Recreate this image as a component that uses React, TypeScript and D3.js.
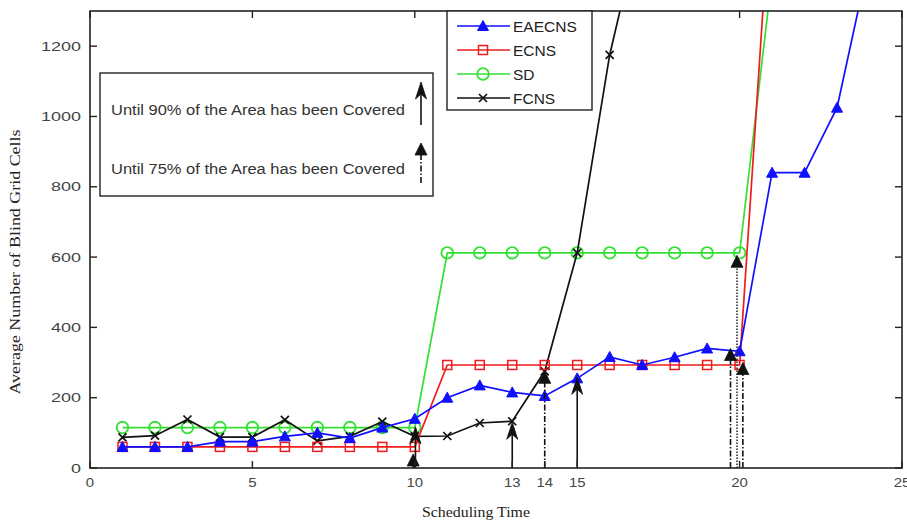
import React from "react";
import * as d3 from "d3";

const W = 907;
const H = 522;

const eaecnsT = [1,2,3,4,5,6,7,8,9,10,11,12,13,14,15,16,17,18,19,20,21,22,23,24];
const eaecnsV = [60,60,60,75,75,90,100,85,115,140,200,235,215,205,255,316,293,315,340,332,840,840,1025,1450];

const ecnsT = [1,2,3,4,5,6,7,8,9,10,11,12,13,14,15,16,17,18,19,20,21];
const ecnsV = [60,60,60,60,60,60,60,60,60,60,293,293,293,293,293,293,293,293,293,293,1700];

const sdT = [1,2,3,4,5,6,7,8,9,10,11,12,13,14,15,16,17,18,19,20,21];
const sdV = [115,115,115,115,115,115,115,115,115,115,612,612,612,612,612,612,612,612,612,612,1400];

const fcnsT = [1,2,3,4,5,6,7,8,9,10,11,12,13,14,15,16,17];
const fcnsV = [87,92,138,88,88,137,77,90,132,90,91,128,133,275,612,1175,1570];

const xTicks = [0,5,10,13,14,15,20,25];
const yTicks = [0,200,400,600,800,1000,1200];

// coverage arrows: time, value reached, kind ("90" solid, "75" dash-dot, "dot" dotted)
const arrowT = [9.95, 10.02, 13, 14, 15, 19.72, 19.92, 20.1];
const arrowV = [40, 117, 130, 275, 258, 340, 605, 300];
const arrowK = ["75", "90", "90", "75", "90", "75", "dot", "75"];

const legendNames = ["EAECNS", "ECNS", "SD", "FCNS"];
const legendColors = ["#1010ff", "#ee1c1c", "#33e033", "#111111"];
const noteTexts = ["Until 90% of the Area has been Covered", "Until 75% of the Area has been Covered"];

const x = d3.scaleLinear().domain([0, 25]).range([90, 902]);
const y = d3.scaleLinear().domain([0, 1300]).range([468, 11]);

function Marker({ kind, cx, cy, color }: { kind: string; cx: number; cy: number; color: string }) {
  if (kind === "EAECNS") {
    return <path d={`M${cx},${cy - 5.5} L${cx + 5.5},${cy + 4.5} L${cx - 5.5},${cy + 4.5} Z`} fill={color} stroke={color} strokeWidth={1} />;
  }
  if (kind === "ECNS") {
    return <rect x={cx - 4.5} y={cy - 4.5} width={9} height={9} fill="none" stroke={color} strokeWidth={1.5} />;
  }
  if (kind === "SD") {
    return <circle cx={cx} cy={cy} r={5.8} fill="none" stroke={color} strokeWidth={1.8} />;
  }
  return (
    <path d={`M${cx - 4},${cy - 4} L${cx + 4},${cy + 4} M${cx - 4},${cy + 4} L${cx + 4},${cy - 4}`} stroke={color} strokeWidth={1.7} fill="none" />
  );
}

function Arrow({ px, yBase, yTip, kind }: { px: number; yBase: number; yTip: number; kind: string }) {
  const dash = kind === "90" ? undefined : kind === "75" ? "6,2,1.5,2" : "1.5,1.5";
  const head =
    kind === "90"
      ? `M${px},${yTip} L${px - 5.5},${yTip + 17} L${px},${yTip + 12} L${px + 5.5},${yTip + 17} Z`
      : `M${px},${yTip} L${px - 6},${yTip + 12} L${px + 6},${yTip + 12} Z`;
  return (
    <g>
      <line x1={px} x2={px} y1={yBase} y2={yTip + 8} stroke={kind === "dot" ? "#333" : "#111"} strokeWidth={kind === "dot" ? 1.6 : 1.6} strokeDasharray={dash} />
      <path d={head} fill="#111" stroke="#111" strokeWidth={0.8} />
    </g>
  );
}

export default function App() {
  const series = [
    { name: "EAECNS", t: eaecnsT, v: eaecnsV, color: legendColors[0] },
    { name: "ECNS", t: ecnsT, v: ecnsV, color: legendColors[1] },
    { name: "SD", t: sdT, v: sdV, color: legendColors[2] },
    { name: "FCNS", t: fcnsT, v: fcnsV, color: legendColors[3] },
  ];
  const line = d3
    .line<[number, number]>()
    .x((d) => x(d[0]))
    .y((d) => y(d[1]));
  const drawOrder = [2, 3, 1, 0];

  return (
    <svg width={W} height={H} style={{ position: "absolute", left: 0, top: 0, background: "#fff" }} fontFamily="'Liberation Sans', Arial, sans-serif">
      <defs>
        <clipPath id="plot">
          <rect x={90} y={11} width={812} height={457} />
        </clipPath>
      </defs>
      <rect x={0} y={0} width={W} height={H} fill="#fff" />

      {/* series */}
      <g clipPath="url(#plot)">
        {drawOrder.map((i) => {
          const s = series[i];
          const pts = s.t.map((t, k) => [t, s.v[k]] as [number, number]);
          return (
            <g key={s.name}>
              <path d={line(pts) || ""} fill="none" stroke={s.color} strokeWidth={1.7} />
              {pts
                .filter((p) => p[1] <= 1300)
                .map((p, k) => (
                  <Marker key={k} kind={s.name} cx={x(p[0])} cy={y(p[1])} color={s.color} />
                ))}
            </g>
          );
        })}
        {arrowT.map((t, i) => (
          <Arrow key={i} px={x(t)} yBase={y(0)} yTip={y(arrowV[i])} kind={arrowK[i]} />
        ))}
      </g>

      {/* frame */}
      <rect x={90} y={11} width={812} height={457} fill="none" stroke="#222" strokeWidth={1.6} />

      {/* ticks */}
      {xTicks.map((t) => (
        <g key={"xt" + t}>
          <line x1={x(t)} x2={x(t)} y1={468} y2={461} stroke="#222" strokeWidth={1.4} />
          <line x1={x(t)} x2={x(t)} y1={11} y2={18} stroke="#222" strokeWidth={1.4} />
          <text
            x={x(t)}
            y={487}
            textAnchor="middle"
            fontSize={12}
            fill="#444"
            textLength={String(t).length * 8.3}
            lengthAdjust="spacingAndGlyphs"
          >
            {t}
          </text>
        </g>
      ))}
      {yTicks.map((v) => (
        <g key={"yt" + v}>
          <line x1={90} x2={97} y1={y(v)} y2={y(v)} stroke="#222" strokeWidth={1.4} />
          <line x1={902} x2={895} y1={y(v)} y2={y(v)} stroke="#222" strokeWidth={1.4} />
          <text
            x={81}
            y={y(v) + 4.5}
            textAnchor="end"
            fontSize={12.5}
            fill="#444"
            textLength={String(v).length * 10}
            lengthAdjust="spacingAndGlyphs"
          >
            {v}
          </text>
        </g>
      ))}

      {/* axis titles */}
      <text x={476} y={517} textAnchor="middle" fontFamily="'Liberation Serif', 'Times New Roman', serif" fontSize={15.5} fill="#222" textLength={108} lengthAdjust="spacingAndGlyphs">
        Scheduling Time
      </text>
      <text
        transform="translate(20,262) rotate(-90)"
        textAnchor="middle"
        fontFamily="'Liberation Serif', 'Times New Roman', serif"
        fontSize={15.5}
        fill="#222"
        textLength={265}
        lengthAdjust="spacingAndGlyphs"
      >
        Average Number of Blind Grid Cells
      </text>

      {/* series legend */}
      <rect x={447} y={11} width={145} height={99} fill="#fff" stroke="#222" strokeWidth={1.4} />
      {legendNames.map((n, i) => {
        const ly = 26 + i * 24;
        return (
          <g key={n}>
            <line x1={457} x2={510} y1={ly} y2={ly} stroke={legendColors[i]} strokeWidth={1.7} />
            <Marker kind={n} cx={483} cy={ly} color={legendColors[i]} />
            <text x={513} y={ly + 5.5} fontSize={15.5} fill="#222">
              {n}
            </text>
          </g>
        );
      })}

      {/* coverage note box */}
      <rect x={100} y={73} width={333} height={123} fill="#fff" stroke="#222" strokeWidth={1.4} />
      <text x={111} y={115} fontSize={14} fill="#333" textLength={294} lengthAdjust="spacingAndGlyphs">
        {noteTexts[0]}
      </text>
      <text x={111} y={174} fontSize={14} fill="#333" textLength={294} lengthAdjust="spacingAndGlyphs">
        {noteTexts[1]}
      </text>
      <Arrow px={421} yBase={125} yTip={82} kind="90" />
      <Arrow px={421} yBase={183} yTip={143} kind="75" />
    </svg>
  );
}
